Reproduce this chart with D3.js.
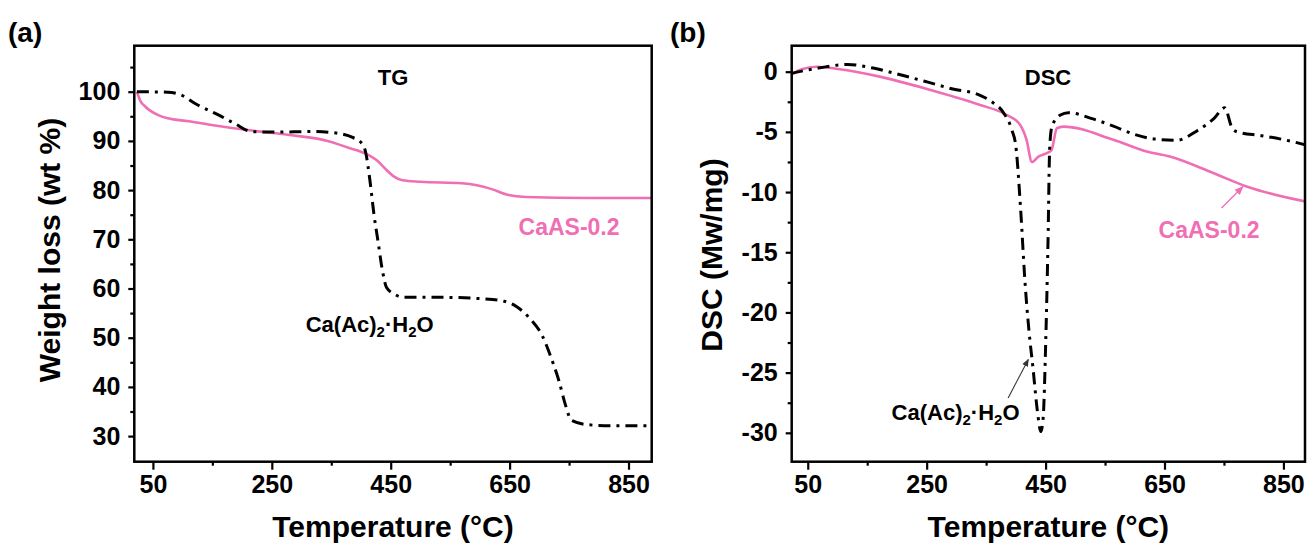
<!DOCTYPE html>
<meta charset="utf-8">
<head>
<style>
body { margin: 0; background: #fff; }
svg { display: block; font-family: "Liberation Sans", Arial, sans-serif; }
.tick text { font-size: 25px; font-weight: bold; fill: #000; }
.tick line { stroke: #000; stroke-width: 2.2; }
.title { font-size: 30px; font-weight: bold; }
.note { font-weight: bold; }
</style>
</head>
<body>
<svg width="1309" height="545"></svg>
<script src="https://d3js.org/d3.v7.min.js"></script>
<script>

// TG curves: temperature (°C) and weight (wt %)
var tgCaasT = [23, 26, 29, 37, 46, 60, 75, 110, 146, 216, 287, 344, 379, 408, 429, 443, 455, 470, 500, 570, 595, 620, 648, 677, 783, 890];
var tgCaasW = [100, 99.0, 98.1, 97.0, 96.1, 95.2, 94.6, 94.0, 93.3, 92.1, 91.1, 90.0, 88.6, 87.4, 85.8, 84.1, 82.8, 82.0, 81.7, 81.4, 81.0, 80.2, 79.0, 78.6, 78.4, 78.4];
var tgCaacT = [23, 75, 96, 124, 160, 188, 216, 252, 323, 358, 386, 400, 408, 415, 422, 429, 436, 443, 457, 471, 535, 606, 641, 662, 684, 705, 719, 733, 744, 754, 783, 818, 890];
var tgCaacW = [100, 99.9, 99.4, 97.4, 95.3, 93.5, 91.9, 91.8, 91.9, 91.6, 90.7, 89.7, 87.6, 82, 74.9, 69.3, 63.7, 60.2, 58.8, 58.2, 58.2, 57.9, 57.4, 56.3, 53.9, 50.4, 46.2, 41.2, 36.3, 33.2, 32.3, 32.1, 32.1];

// DSC curves: temperature (°C) and heat flow (Mw/mg)
var dscCaasT = [23, 40, 65, 104, 171, 255, 340, 385, 407, 418, 427, 438, 452, 460, 469, 480, 564, 620, 659, 732, 788, 889];
var dscCaasD = [-0.2, 0.2, 0.41, 0.2, -0.41, -1.5, -2.76, -3.6, -4.4, -5.66, -7.5, -7.05, -6.77, -6.5, -4.7, -4.56, -5.66, -6.63, -7.05, -8.42, -9.54, -10.8];
var dscCaacT = [22, 45, 68, 117, 160, 209, 252, 294, 337, 358, 379, 393, 400, 408, 415, 422, 429, 436, 442, 446, 450, 454, 457, 461, 475, 488, 528, 563, 599, 634, 670, 705, 733, 751, 765, 776, 811, 846, 889];
var dscCaacD = [-0.15, 0.1, 0.3, 0.6, 0.3, -0.3, -0.87, -1.44, -1.9, -2.45, -3.4, -4.8, -6.2, -11.4, -17.2, -21.5, -24.7, -28.1, -29.9, -28.7, -22.9, -14.3, -6.2, -4.5, -3.6, -3.4, -3.9, -4.5, -5.2, -5.6, -5.7, -4.9, -3.9, -3.0, -4.8, -5.05, -5.3, -5.6, -6.1];

var xTicks = [50, 250, 450, 650, 850];
var xMinor = [150, 350, 550, 750];
var tgTicks = [30, 40, 50, 60, 70, 80, 90, 100];
var tgMinor = [35, 45, 55, 65, 75, 85, 95, 105];
var dscTicks = [0, -5, -10, -15, -20, -25, -30];
var dscMinor = [-2.5, -7.5, -12.5, -17.5, -22.5, -27.5];

var pink = "#f06eb4";

var svg = d3.select("svg");

function zip(a, b) { return a.map(function(v, i) { return [v, b[i]]; }); }

function panel(opt) {
  var x = d3.scaleLinear().domain(opt.xDomain).range([opt.left, opt.right]);
  var y = d3.scaleLinear().domain(opt.yDomain).range([opt.bottom, opt.top]);
  var g = svg.append("g");

  g.append("clipPath").attr("id", opt.id)
    .append("rect")
      .attr("x", opt.left).attr("y", opt.top)
      .attr("width", opt.right - opt.left).attr("height", opt.bottom - opt.top);

  // axes: major + minor ticks, outward
  g.append("g").attr("transform", "translate(0," + opt.bottom + ")")
    .call(d3.axisBottom(x).tickValues(xTicks).tickSize(8).tickSizeOuter(0).tickPadding(6))
    .call(function(a) { a.select(".domain").remove(); });
  g.append("g").attr("transform", "translate(0," + opt.bottom + ")")
    .call(d3.axisBottom(x).tickValues(xMinor).tickSize(4).tickFormat(""))
    .call(function(a) { a.select(".domain").remove(); });
  g.append("g").attr("transform", "translate(" + opt.left + ",0)")
    .call(d3.axisLeft(y).tickValues(opt.yTicks).tickSize(6).tickPadding(opt.yPad).tickFormat(function(d) { return String(d); }))
    .call(function(a) { a.select(".domain").remove(); });
  g.append("g").attr("transform", "translate(" + opt.left + ",0)")
    .call(d3.axisLeft(y).tickValues(opt.yMinor).tickSize(4).tickFormat(""))
    .call(function(a) { a.select(".domain").remove(); });

  var line = d3.line().curve(d3.curveMonotoneX)
    .x(function(d) { return x(d[0]); })
    .y(function(d) { return y(d[1]); });

  var plot = g.append("g").attr("clip-path", "url(#" + opt.id + ")");
  plot.append("path").datum(opt.pinkData)
    .attr("d", line).attr("fill", "none")
    .attr("stroke", pink).attr("stroke-width", 2.6);
  plot.append("path").datum(opt.blackData)
    .attr("d", line).attr("fill", "none")
    .attr("stroke", "#000").attr("stroke-width", 3)
    .attr("stroke-dasharray", "12,6,3,6");

  g.append("rect")
    .attr("x", opt.left).attr("y", opt.top)
    .attr("width", opt.right - opt.left).attr("height", opt.bottom - opt.top)
    .attr("fill", "none").attr("stroke", "#000").attr("stroke-width", 2.5);

  // titles
  g.append("text").attr("class", "title")
    .attr("x", (opt.left + opt.right) / 2).attr("y", 537)
    .attr("text-anchor", "middle").text("Temperature (°C)");
  g.append("text").attr("class", "title")
    .attr("font-size", 32)
    .attr("transform", "translate(" + opt.yTitleX + "," + opt.yTitleY + ") rotate(-90)")
    .attr("text-anchor", "middle").attr("dy", "0.36em").text(opt.yTitle);
  g.append("text")
    .attr("x", opt.tagX).attr("y", 42)
    .attr("font-size", 28).attr("font-weight", "bold").text(opt.tag);

  g.append("text").attr("class", "note")
    .attr("x", opt.headX).attr("y", 85).attr("font-size", 22)
    .attr("text-anchor", "middle").text(opt.head);

  g.append("text").attr("class", "note")
    .attr("x", x(opt.pinkLabel[0])).attr("y", y(opt.pinkLabel[1]))
    .attr("font-size", 23).attr("fill", pink)
    .attr("text-anchor", "middle").attr("dy", "0.36em").text("CaAS-0.2");

  var t = g.append("text").attr("class", "note")
    .attr("x", x(opt.blackLabel[0])).attr("y", y(opt.blackLabel[1]))
    .attr("font-size", 22).attr("dy", "0.36em");
  t.append("tspan").text("Ca(Ac)");
  t.append("tspan").attr("font-size", 15).attr("dy", 5).text("2");
  t.append("tspan").attr("dy", -5).text("·H");
  t.append("tspan").attr("font-size", 15).attr("dy", 5).text("2");
  t.append("tspan").attr("dy", -5).text("O");

  return { x: x, y: y, g: g };
}

var defs = svg.append("defs");
function marker(id, color) {
  defs.append("marker").attr("id", id)
    .attr("viewBox", "0 0 10 10").attr("refX", 9).attr("refY", 5)
    .attr("markerWidth", 7).attr("markerHeight", 7).attr("orient", "auto")
    .append("path").attr("d", "M0,1 L10,5 L0,9 Z").attr("fill", color);
}
marker("arrPink", pink);
marker("arrBlack", "#333");

var a = panel({
  id: "clipA", left: 134.3, right: 651.7, top: 45.7, bottom: 461.7,
  xDomain: [18.7, 889], yDomain: [24.8, 109.35],
  yTicks: tgTicks, yMinor: tgMinor, yPad: 8,
  pinkData: zip(tgCaasT, tgCaasW), blackData: zip(tgCaacT, tgCaacW),
  yTitle: "Weight loss (wt %)", yTitleX: 49, yTitleY: 250,
  tag: "(a)", tagX: 8, head: "TG", headX: 393,
  pinkLabel: [750, 72.5], blackLabel: [307, 52.8]
});

var b = panel({
  id: "clipB", left: 791.7, right: 1305, top: 45.7, bottom: 461.7,
  xDomain: [23, 886.3], yDomain: [-32.4, 2.16],
  yTicks: dscTicks, yMinor: dscMinor, yPad: 8,
  pinkData: zip(dscCaasT, dscCaasD), blackData: zip(dscCaacT, dscCaacD),
  yTitle: "DSC (Mw/mg)", yTitleX: 711, yTitleY: 255,
  tag: "(b)", tagX: 670, head: "DSC", headX: 1048,
  pinkLabel: [725, -13.1], blackLabel: [191, -28.3]
});

// arrows in panel b
b.g.append("line")
  .attr("x1", b.x(746)).attr("y1", b.y(-11.33))
  .attr("x2", b.x(782)).attr("y2", b.y(-9.54))
  .attr("stroke", pink).attr("stroke-width", 1.3).attr("marker-end", "url(#arrPink)");
b.g.append("line")
  .attr("x1", b.x(387)).attr("y1", b.y(-27.1))
  .attr("x2", b.x(421)).attr("y2", b.y(-23.9))
  .attr("stroke", "#333").attr("stroke-width", 1.1).attr("marker-end", "url(#arrBlack)");

</script>
</body>
</html>
